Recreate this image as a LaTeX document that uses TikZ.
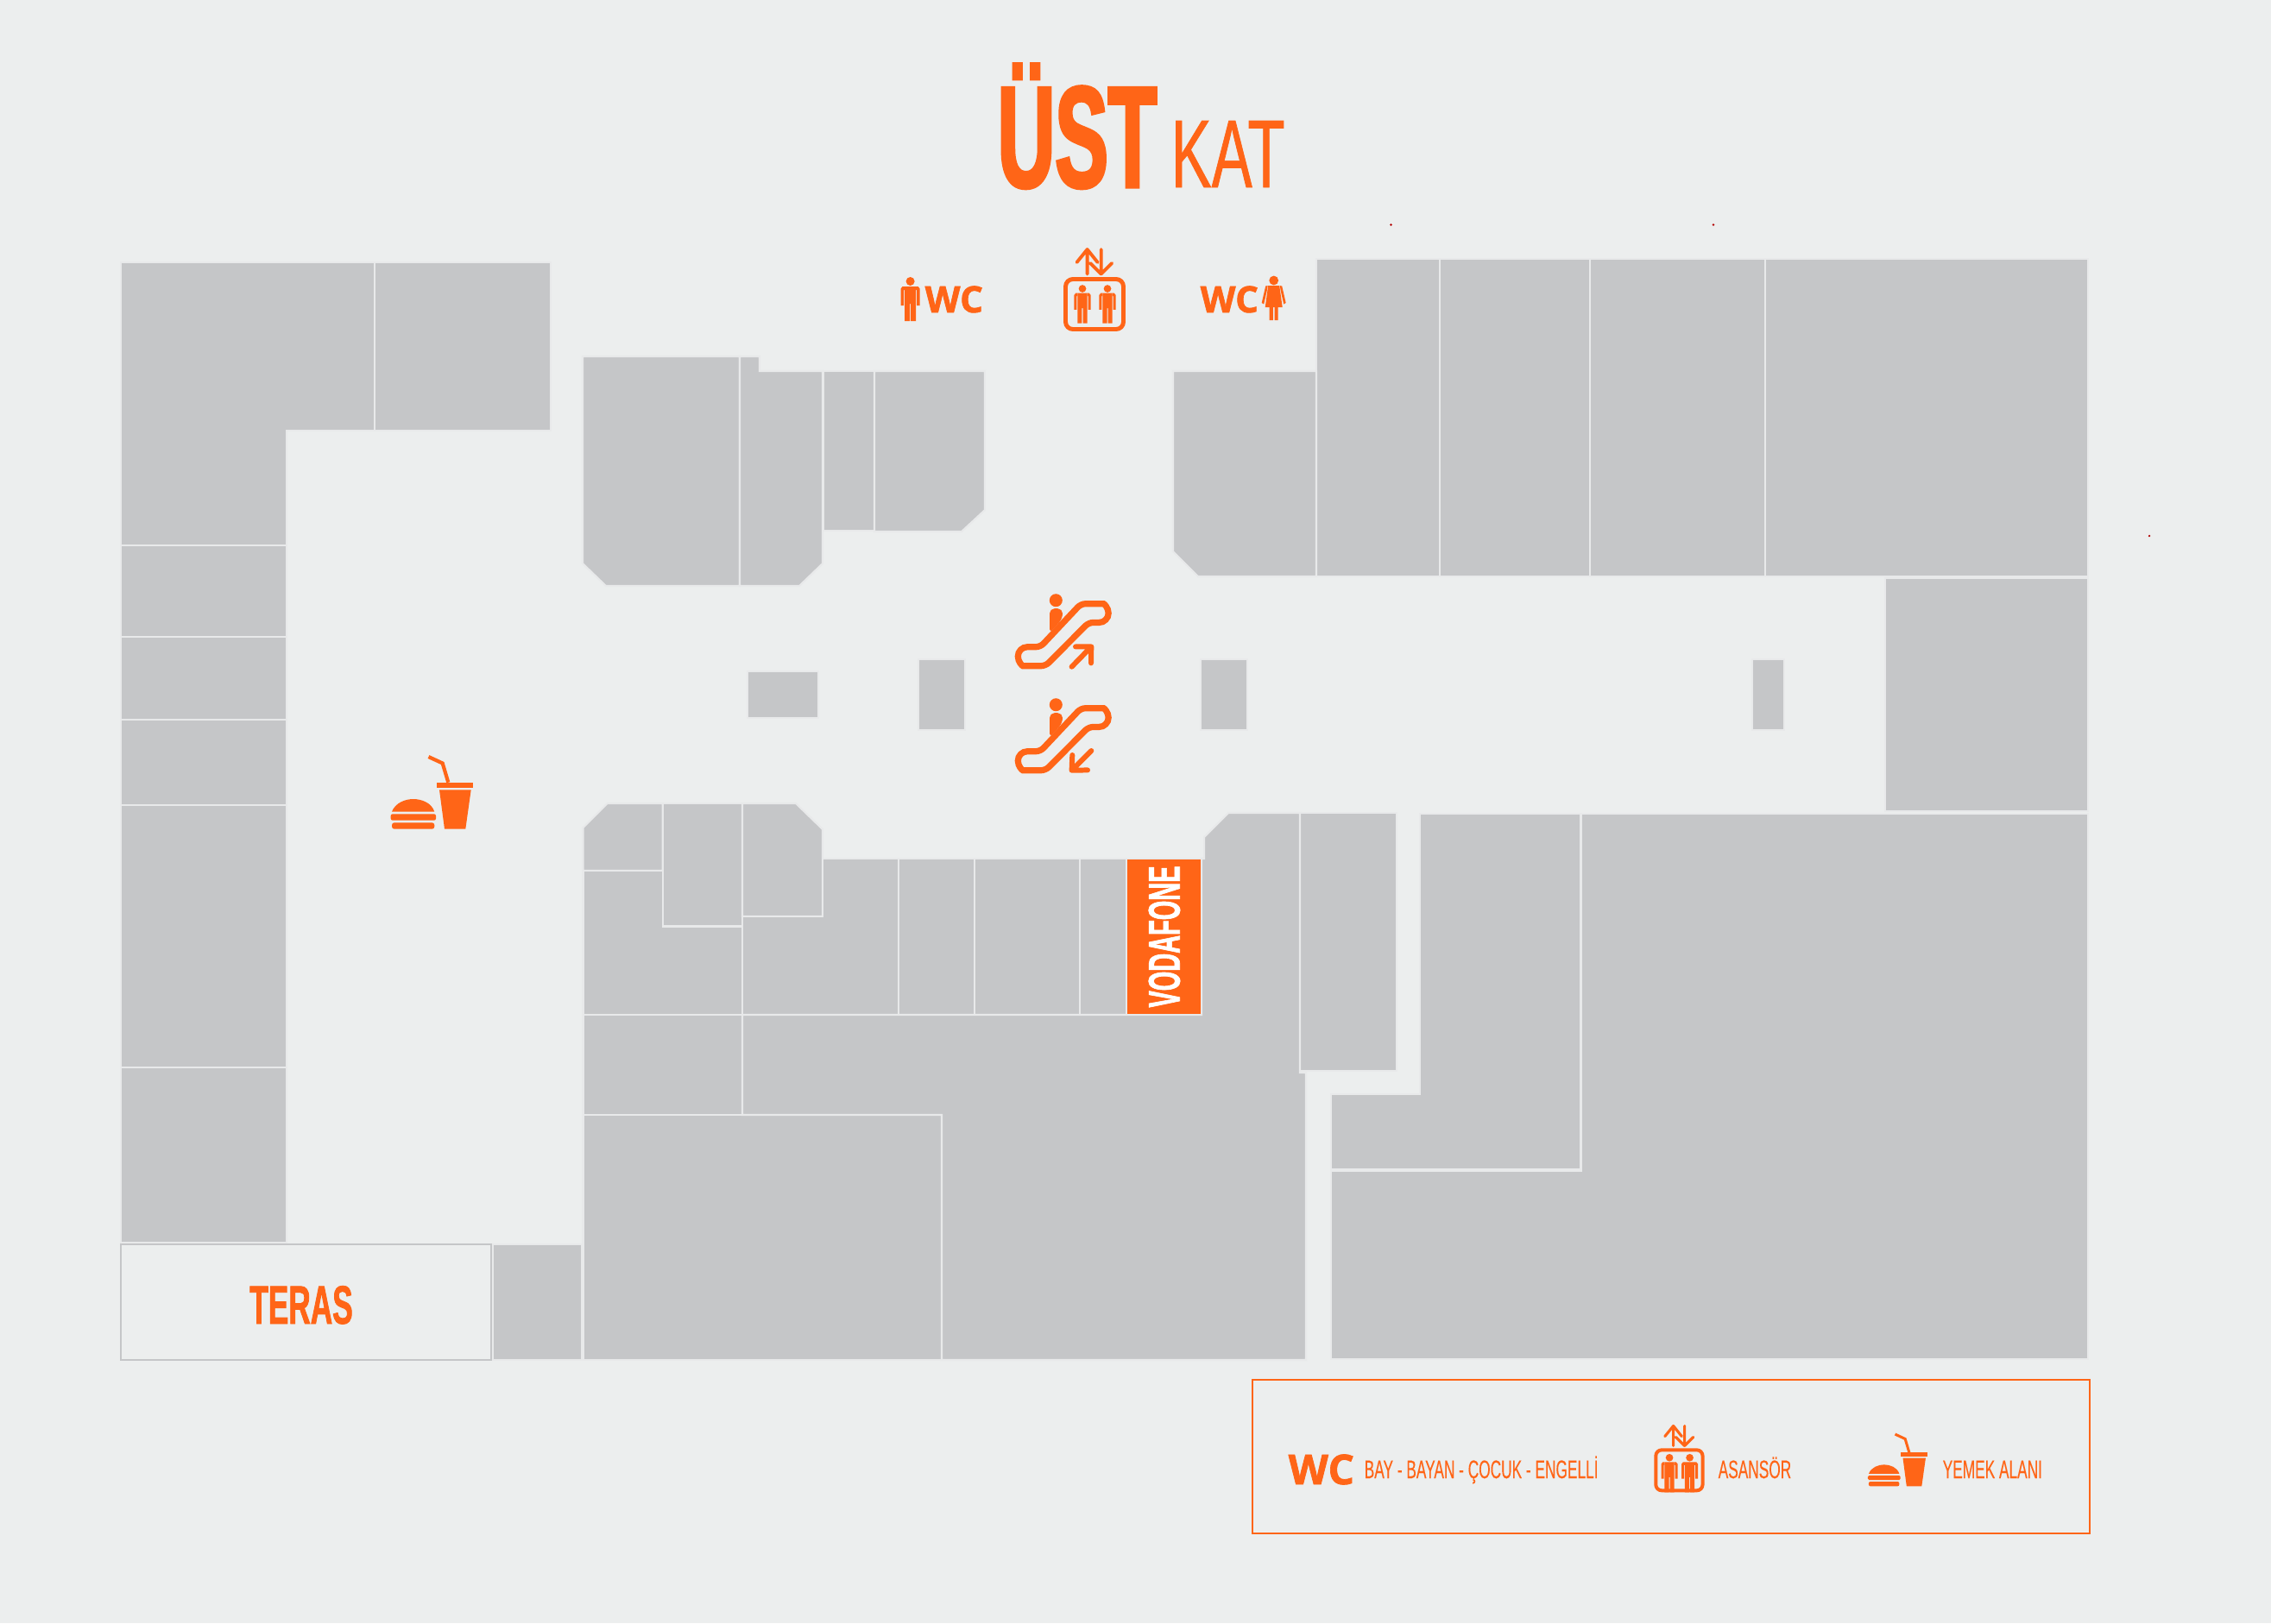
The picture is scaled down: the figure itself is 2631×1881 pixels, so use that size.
\documentclass[tikz,border=0pt]{standalone}
\usepackage{fontspec}
\setmainfont{Liberation Sans}
\newfontfamily\signfont[FakeStretch=0.56,BoldFeatures={FakeBold=1.2}]{Liberation Sans}
\newfontfamily\titlefont[FakeStretch=0.55,BoldFeatures={FakeBold=2}]{Liberation Sans}
\newfontfamily\katfont[FakeStretch=0.63,FakeBold=.6]{Liberation Sans}
\newfontfamily\legendfont[FakeStretch=0.585,FakeBold=.15]{Liberation Sans}
\newfontfamily\wcfont[BoldFeatures={FakeBold=1.5}]{Open Sans}
\definecolor{floorbg}{HTML}{ECEEEE}
\definecolor{storegray}{HTML}{C5C6C8}
\definecolor{storeline}{HTML}{E8E9EA}
\definecolor{accent}{HTML}{FF6517}
\tikzset{
  store/.style={fill=storegray, draw=storeline, line width=.6pt},
  sign/.style={inner sep=0pt, text=accent, font=\signfont},
  wclabel/.style={inner sep=0pt, text=accent, font=\wcfont\bfseries},
  % ---- icons: origin is the head of the figure, or the lift box centre
  pics/manicon/.style={code={
    \fill[accent] (0,0) circle (5);
    \fill[accent] (-6.5,6) -- (6.5,6) -- (6.5,46) -- (.6,46) -- (.6,26)
      -- (-.6,26) -- (-.6,46) -- (-6.5,46) -- cycle;
    \fill[accent] (-6.5,6) -- (-9,6) -- (-11,8.5) -- (-11,28) -- (-7.5,28)
      -- (-7.5,10) -- (-6.5,10) -- cycle;
    \fill[accent] (6.5,6) -- (9,6) -- (11,8.5) -- (11,28) -- (7.5,28)
      -- (7.5,10) -- (6.5,10) -- cycle;
  }},
  pics/womanicon/.style={code={
    \fill[accent] (0,0) circle (5.4);
    \fill[accent] (-6.5,6) -- (6.5,6) -- (10,31) -- (-10,31) -- cycle;
    \fill[accent] (-5,31) rectangle (-.8,46) (.8,31) rectangle (5,46);
    \fill[accent] (-7,6) -- (-9.5,6.5) -- (-14,26) -- (-11.5,27.5) -- (-8,12) -- cycle;
    \fill[accent] (7,6) -- (9.5,6.5) -- (14,26) -- (11.5,27.5) -- (8,12) -- cycle;
  }},
  pics/lifticon/.style={code={
    \begin{scope}[scale=#1]
    \draw[accent, line width=#1*1.4pt, rounded corners=#1*2.4pt]
      (-33.5,-29) rectangle (33.5,29);
    \draw[accent, line width=#1*1.1pt, line cap=round, line join=round]
      (-8.4,-35) -- (-8.4,-63.5) (-20.5,-48.5) -- (-8.4,-63.5) -- (3.6,-48.5)
      (7.7,-63.5) -- (7.7,-35) (-4.8,-47.5) -- (7.7,-35) -- (20.2,-47.5);
    \pic[scale=.87] at (-14,-18) {manicon};
    \pic[scale=.87] at (15,-18) {manicon};
    \end{scope}
  }},
  pics/lifticon/.default=1,
  pics/foodicon/.style={code={
    \begin{scope}[scale=#1]
    \fill[accent] (34,90.7) .. controls (38,80) and (50,76) .. (58.7,76)
      .. controls (68,76) and (80,80) .. (83.3,90.7) -- cycle;
    \fill[accent, rounded corners=#1*.6pt] (32.7,93.3) rectangle (85,100.7);
    \fill[accent, rounded corners=#1*.8pt] (34,103.3) -- (83.3,103.3) -- (83.3,110.7)
      -- (34,110.7) -- cycle;
    \fill[accent] (86,56.7) rectangle (128,63.3);
    \fill[accent] (89,65.3) -- (125.7,65.3) -- (119.3,110.7) -- (95,110.7) -- cycle;
    \draw[accent, line width=#1*1.2pt] (76.5,27) -- (92.7,34.5) -- (99.3,56.7);
    \end{scope}
  }},
  pics/foodicon/.default=1,
  pics/escalator/.style={code={
    \fill[accent] (0,0) circle (7.5);
    \fill[accent, rounded corners=1.6pt] (-7.3,38) -- (-7.3,9.5) -- (7.7,9.5) -- (7.7,21) -- cycle;
    \draw[accent, line width=2.05pt] (-33,54) [rounded corners=1.5pt] -- (-18,54) -- (29,4)
      -- (50,4) [sharp corners] arc (-90:90:10.85) [rounded corners=1.5pt] -- (38,25.7)
      -- (-12,76) -- (-33,76) [sharp corners] arc (90:270:11) -- cycle;
  }},
}
\begin{document}
\begin{tikzpicture}[x=.01cm, y=-.01cm]
\fill[floorbg] (0,0) rectangle (2631,1881);
\useasboundingbox (0,0) rectangle (2631,1881);
% -------------------------------------------------
% Title
\node[sign, anchor=base west, font=\titlefont\bfseries\fontsize{47.7}{50}\selectfont] (titleA) at (1155,217) {ÜST};
\node[sign, anchor=base west, font=\katfont\fontsize{31.8}{34}\selectfont] (titleB) at (1356,217) {KAT};
% -------------------------------------------------
% Plain rectangular stores
\foreach \xa/\ya/\xb/\yb in {434/304/638/499, 140/632/332/738, 140/738/332/834,
    140/834/332/933, 140/933/332/1237, 140/1237/332/1440,
    954/430/1013/615, 1525/300/1668/668, 1668/300/1842/668, 1842/300/2045/668,
    2045/300/2419/668, 2184/670/2419/940, 866/778/948/832, 1064/764/1118/846,
    1391/764/1445/846, 2030/764/2067/846, 571/1442/674/1576,
    1041/995/1129/1176, 1129/995/1251/1176, 1251/995/1305/1176,
    767.6/931/860/1073.5, 675.5/1176/860/1292, 675.5/1292/1091/1576,
    1506/942/1618/1241}
  \draw[store] (\xa,\ya) rectangle (\xb,\yb);
% Stores with a notch or a cut corner
\draw[store] (140,304) -- (434,304) -- (434,499) -- (332,499) -- (332,632) -- (140,632) -- cycle;
\draw[store] (675,413) -- (857,413) -- (857,679) -- (702,679) -- (675,653) -- cycle;
\draw[store] (857,413) -- (880,413) -- (880,430) -- (953,430) -- (953,653) -- (926,679) -- (857,679) -- cycle;
\draw[store] (1013,430) -- (1141,430) -- (1141,591) -- (1114,616) -- (1013,616) -- cycle;
\draw[store] (1359,430) -- (1525,430) -- (1525,668) -- (1388,668) -- (1359,639) -- cycle;
\draw[store] (675.5,959) -- (703.6,931) -- (767.6,931) -- (767.6,1009) -- (675.5,1009) -- cycle;
\draw[store] (675.5,1009) -- (767.6,1009) -- (767.6,1073.5) -- (860,1073.5) -- (860,1176) -- (675.5,1176) -- cycle;
\draw[store] (860,931) -- (922,931) -- (953,961) -- (953,1062) -- (860,1062) -- cycle;
\draw[store] (860,1062) -- (953,1062) -- (953,995) -- (1041,995) -- (1041,1176) -- (860,1176) -- cycle;
\draw[store] (860,1176) -- (1392,1176) -- (1392,995) -- (1395,995) -- (1395,970) -- (1423,942)
  -- (1506,942) -- (1506,1243) -- (1513,1243) -- (1513,1576) -- (1091,1576) -- (1091,1292) -- (860,1292) -- cycle;
\draw[store] (1645,943) -- (1831.5,943) -- (1831.5,1355) -- (1541.6,1355) -- (1541.6,1268) -- (1645,1268) -- cycle;
\draw[store] (1831.5,943) -- (2419,943) -- (2419,1575) -- (1541.6,1575) -- (1541.6,1357) -- (1831.5,1357) -- cycle;
% -------------------------------------------------
% Named units
\draw[store, fill=accent] (1305,995) rectangle (1392,1176);
\node[sign, text=white, rotate=90, anchor=base, font=\signfont\bfseries\fontsize{14.7}{16}\selectfont] (vodafone) at (1366.7,1085.5) {VODAFONE};
\draw[fill=floorbg, draw=storegray, line width=.55pt] (140,1442) rectangle (569,1576);
\node[sign, anchor=base, font=\signfont\bfseries\fontsize{17.9}{20}\selectfont] (teras) at (349,1534) {TERAS};
% -------------------------------------------------
% Signs on the plan
\pic at (1054.6,326) {manicon};
\node[wclabel, anchor=base west, font=\wcfont\bfseries\fontsize{12}{14}\selectfont] (wcA) at (1071,362) {WC};
\node[wclabel, anchor=base west, font=\wcfont\bfseries\fontsize{12}{14}\selectfont] (wcB) at (1390,362) {WC};
\pic at (1475.7,325) {womanicon};
\pic at (1268,352.5) {lifticon};
\pic at (1223.3,695.7) {escalator};
\pic at (1223.3,816.7) {escalator};
\draw[accent, line width=1.7pt, line cap=round, line join=round]
  (1241.6,772.7) -- (1264.3,749.4) (1246,749.4) -- (1264.3,749.4) -- (1264,768.4);
\draw[accent, line width=1.7pt, line cap=round, line join=round]
  (1264.3,870) -- (1241.6,892.7) (1242.3,875) -- (1241.6,892.7) -- (1260,892.4);
\pic at (420,850) {foodicon};
% -------------------------------------------------
% Legend
\draw[accent, line width=.55pt] (1451,1599) rectangle (2421,1776.5);
\node[wclabel, anchor=base west, font=\wcfont\bfseries\fontsize{13.6}{15}\selectfont] (wcLegend) at (1492,1720) {WC};
\node[sign, anchor=base west, font=\legendfont\fontsize{8.4}{10}\selectfont] (legendWc) at (1580,1713) {BAY - BAYAN - ÇOCUK - ENGELLİ};
\pic at (1945.4,1703.8) {lifticon=.81};
\node[sign, anchor=base west, font=\legendfont\fontsize{8.4}{10}\selectfont] (legendLift) at (1990,1713) {ASANSÖR};
\pic at (2140.4,1642.6) {foodicon=.72};
\node[sign, anchor=base west, font=\legendfont\fontsize{8.4}{10}\selectfont] (legendFood) at (2250,1713) {YEMEK ALANI};
% -------------------------------------------------
% Stray marks
\fill[red!70!black] (1611.5,260.5) circle (1.3) (1985,260.5) circle (1.3) (2490,621) circle (1.3);
\end{tikzpicture}
\end{document}
